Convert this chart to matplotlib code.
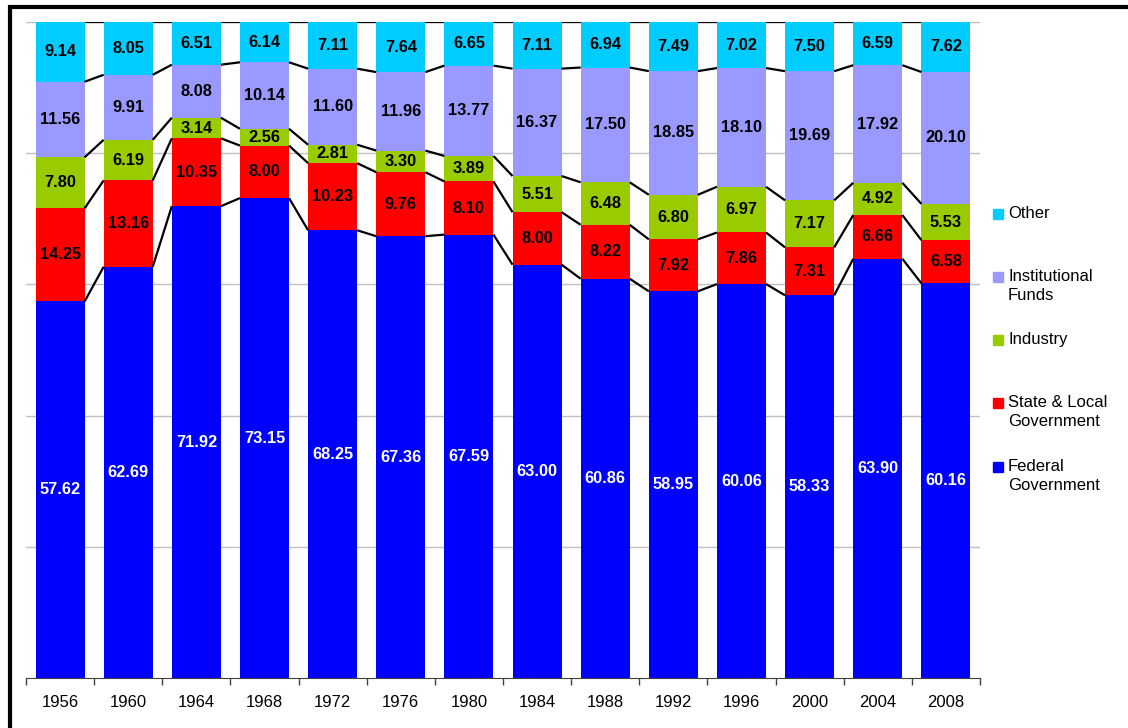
import matplotlib
matplotlib.use("Agg")
import matplotlib.pyplot as plt
import matplotlib.patches as mpatches
import numpy as np

plt.rcParams['font.family'] = ['Liberation Sans', 'DejaVu Sans']

years = ['1956', '1960', '1964', '1968', '1972', '1976', '1980',
         '1984', '1988', '1992', '1996', '2000', '2004', '2008']
federal = [57.62, 62.69, 71.92, 73.15, 68.25, 67.36, 67.59,
           63.00, 60.86, 58.95, 60.06, 58.33, 63.90, 60.16]
state_local = [14.25, 13.16, 10.35, 8.00, 10.23, 9.76, 8.10,
               8.00, 8.22, 7.92, 7.86, 7.31, 6.66, 6.58]
industry = [7.80, 6.19, 3.14, 2.56, 2.81, 3.30, 3.89,
            5.51, 6.48, 6.80, 6.97, 7.17, 4.92, 5.53]
institutional = [11.56, 9.91, 8.08, 10.14, 11.60, 11.96, 13.77,
                 16.37, 17.50, 18.85, 18.10, 19.69, 17.92, 20.10]
other = [9.14, 8.05, 6.51, 6.14, 7.11, 7.64, 6.65,
         7.11, 6.94, 7.49, 7.02, 7.50, 6.59, 7.62]

series = [
    ('Federal\nGovernment', federal, '#0000ff', 'white'),
    ('State & Local\nGovernment', state_local, '#ff0000', 'black'),
    ('Industry', industry, '#99cc00', 'black'),
    ('Institutional\nFunds', institutional, '#9999ff', 'black'),
    ('Other', other, '#00ccff', 'black'),
]

data = np.array([s[1] for s in series])
pct = data / data.sum(axis=0) * 100

W, H = 1128, 728
fig = plt.figure(figsize=(W / 100, H / 100), dpi=100)
ax = fig.add_axes([26 / W, 1 - 678 / H, (980 - 26) / W, (678 - 22) / H])

x = np.arange(len(years))
width = 0.72
bottom = np.zeros(len(years))
for (name, vals, color, tcolor), p in zip(series, pct):
    ax.bar(x, p, width, bottom=bottom, color=color, zorder=2)
    for xi, b, h, v in zip(x, bottom, p, vals):
        ax.text(xi, b + h / 2, f'{v:.2f}', ha='center', va='center',
                fontsize=11.8, fontweight='bold', color=tcolor, zorder=4)
    bottom = bottom + p
    # series lines between bars
    for i in range(len(years) - 1):
        ax.plot([x[i] + width / 2, x[i + 1] - width / 2],
                [bottom[i], bottom[i + 1]], color='black', lw=1.6, zorder=3,
                solid_capstyle='butt')

ax.set_xlim(-0.5, len(years) - 0.5)
ax.set_ylim(0, 100)
ax.set_yticks([20, 40, 60, 80, 100])
ax.yaxis.grid(True, color='#c0c0c0', lw=1)
ax.set_axisbelow(True)
ax.tick_params(axis='y', length=0, labelleft=False)

ax.set_xticks(x)
ax.set_xticklabels(years, fontsize=12)
ax.set_xticks(np.arange(-0.5, len(years)), minor=True)
ax.tick_params(axis='x', which='major', length=0, pad=12)
ax.tick_params(axis='x', which='minor', length=5, width=1, color='#404040')

for side in ['left', 'right', 'top']:
    ax.spines[side].set_visible(False)
ax.spines['bottom'].set_color('#404040')

# legend drawn by hand so the marker sits on the first text line
legend_y = [214, 277, 340, 403, 467]  # first-line centre, px from top
for (name, vals, color, tcolor), ly in zip(series[::-1], legend_y):
    fig.patches.append(mpatches.Rectangle((993 / W, 1 - (ly + 5) / H), 10 / W, 10 / H,
                                          transform=fig.transFigure,
                                          color=color))
    fig.text(1008 / W, 1 - (ly - 8) / H, name, ha='left', va='top',
             fontsize=12, linespacing=1.3)

# outer frame
fig.patches.append(mpatches.Rectangle((10 / W, -0.1), 1.2, 1 - 7 / H + 0.1,
                                      transform=fig.transFigure, fill=False,
                                      edgecolor='black', lw=3))

fig.savefig('out.png', dpi=100)
